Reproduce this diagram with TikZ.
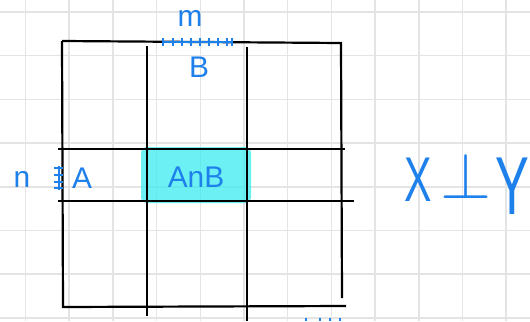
\documentclass[tikz,border=0pt]{standalone}
\usepackage{fontspec}
\setsansfont{Liberation Sans}
\usepackage{tikz}
\usetikzlibrary{positioning}
\definecolor{inkblue}{RGB}{30, 128, 235}
\definecolor{marker}{RGB}{60, 235, 240}
\definecolor{paper}{RGB}{228, 228, 228}

\begin{document}
\begin{tikzpicture}[
        x=0.02cm, y=-0.02cm,
        gridline/.style={paper, line width=0.9pt},
        frame/.style={black, line width=1.25pt},
        hand/.style={inkblue, font=\sffamily\fontsize{17}{17}\selectfont, inner sep=0pt},
        bighand/.style={inkblue, font=\sffamily\fontsize{36}{36}\selectfont, inner sep=0pt},
        tickline/.style={inkblue, line width=0.8pt},
    ]
        \useasboundingbox (0,0) rectangle (530,321);
        \fill[white] (0,0) rectangle (530,321);

        % paper grid
        \foreach \gx in {25.5,69.2,112.9,156.6,200.3,244,287.7,331.4,375.1,418.8,462.5,506.2}
            \draw[gridline] (\gx,0) -- (\gx,321);
        \foreach \gy in {12,55.7,99.4,143.1,186.8,230.5,274.2,317.9}
            \draw[gridline] (0,\gy) -- (530,\gy);

        % highlighted cell
        \fill[marker, opacity=0.75, rounded corners=3pt] (141,147) rectangle (251,203);

        % square and the two strips
        \draw[frame] (62,41) -- (341,43) -- (342,298);
        \draw[frame] (62,41) -- (63,307) -- (346,306);
        \draw[frame] (147,46) -- (147,316);
        \draw[frame] (247,47) -- (247,321);
        \draw[frame] (58,149) -- (345,149);
        \draw[frame] (58,201) -- (354,201);

        % labels
        \node[hand] (m)   at (190,18)  {m};
        \node[hand] (B)   at (199,67)  {B};
        \node[hand] (n)   at (22,179)  {n};
        \node[hand] (A)   at (82,178)  {A};
        \node[hand] (AnB) at (196,177) {AnB};
        \node[bighand, xscale=0.65] (X) at (418,180) {X};
        \node[bighand, scale=1.5]   (perp) at (466,176) {$\perp$};
        \node[bighand, xscale=0.8, yscale=1.3] (Y) at (512,186) {Y};

        % tick rulers
        \draw[tickline] (162,42) -- (233,42);
        \foreach \tx in {163,173,182,191,200,209,218,227,232}
            \draw[tickline] (\tx,38) -- (\tx,46);
        \draw[tickline] (59,166) -- (59,190);
        \foreach \ty in {168,175,182,188}
            \draw[tickline] (54,\ty) -- (63,\ty);
        \foreach \tx in {306,320,330,340}
            \draw[tickline] (\tx,318) -- (\tx,321);
    \end{tikzpicture}
\end{document}
